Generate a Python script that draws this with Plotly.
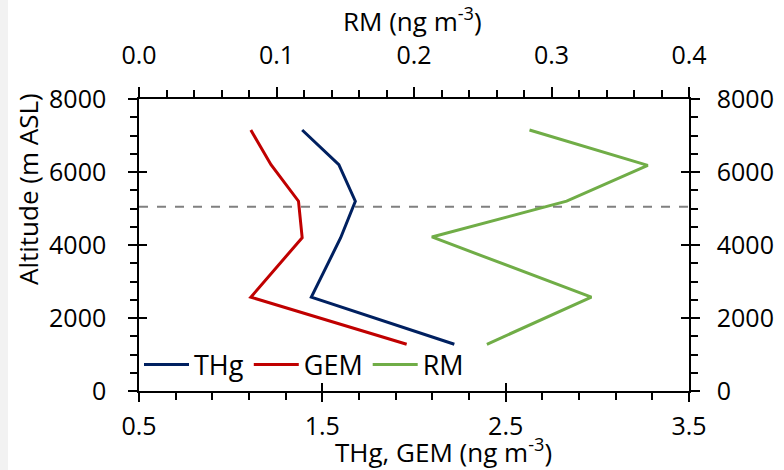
import plotly.graph_objects as go

# ---- data ----
altitude = [7150, 6200, 5200, 4200, 2570, 1280]
altitude_rm = [7150, 6180, 5200, 4220, 2570, 1280]
thg = [1.39, 1.59, 1.68, 1.60, 1.44, 2.22]
gem = [1.11, 1.22, 1.37, 1.39, 1.11, 1.96]
rm = [0.284, 0.370, 0.311, 0.213, 0.329, 0.253]
boundary_altitude = 5050

x_range = [0.5, 3.5]
rm_range = [0.0, 0.4]
y_range = [0, 8000]

FONT = "Open Sans, Noto Sans, sans-serif"
FS = 25

fig = go.Figure()
fig.add_trace(go.Scatter(x=thg, y=altitude, mode="lines", name="THg",
                         line=dict(color="#002060", width=3), xaxis="x", yaxis="y"))
fig.add_trace(go.Scatter(x=gem, y=altitude, mode="lines", name="GEM",
                         line=dict(color="#C00000", width=3), xaxis="x", yaxis="y"))
fig.add_trace(go.Scatter(x=rm, y=altitude_rm, mode="lines", name="RM",
                         line=dict(color="#70AD47", width=3), xaxis="x2", yaxis="y"))
# helper traces to attach secondary axes
for xa, ya in [("x", "y2"), ("x3", "y3"), ("x", "y4")]:
    fig.add_trace(go.Scatter(x=[None], y=[None], xaxis=xa, yaxis=ya,
                             showlegend=False, hoverinfo="skip"))

fig.add_shape(type="line", xref="paper", x0=0, x1=1, yref="y",
              y0=boundary_altitude, y1=boundary_altitude,
              line=dict(color="#808080", width=2, dash="dash"), layer="below")
# light grey strip at the left edge of the image
fig.add_shape(type="rect", xref="paper", yref="paper", x0=-139/550, x1=-131/550,
              y0=-79/292, y1=1 + 99/292, line=dict(width=0), fillcolor="#F2F2F2",
              layer="below")

tickfont = dict(family=FONT, size=FS, color="black")
common = dict(showgrid=False, zeroline=False, showline=True, linecolor="black",
              linewidth=1.5, tickcolor="black", tickwidth=1.5, tickfont=tickfont,
              automargin=False)
inside = dict(showticklabels=False, showgrid=False, zeroline=False, showline=False,
              tickcolor="black", tickwidth=1.5, automargin=False)

fig.update_layout(
    width=784, height=470,
    margin=dict(l=139, r=95, t=99, b=79),
    paper_bgcolor="white", plot_bgcolor="white",
    font=dict(family=FONT, size=FS, color="black"),
    showlegend=True,
    legend=dict(orientation="h", x=0.0, y=0.089, xanchor="left", yanchor="middle",
                bgcolor="rgba(0,0,0,0)", font=dict(family=FONT, size=27),
                itemwidth=45, tracegroupgap=0),
    xaxis=dict(range=x_range, tick0=0.5, dtick=1, ticks="outside", ticklen=9,
               ticklabelstandoff=3, tickformat=".1f",
               minor=dict(tick0=0.5, dtick=0.2, ticks="outside", ticklen=7,
                          tickcolor="black", tickwidth=1.5),
               anchor="y", side="bottom", **common),
    xaxis2=dict(range=rm_range, tick0=0, dtick=0.1, ticks="outside", ticklen=10,
                ticklabelstandoff=13, tickformat=".1f",
                minor=dict(tick0=0, dtick=0.02, ticks="outside", ticklen=7,
                           tickcolor="black", tickwidth=1.5),
                overlaying="x", side="top", anchor="y", **common),
    xaxis3=dict(range=x_range, tick0=0.5, dtick=1, ticks="inside", ticklen=8,
                overlaying="x", side="bottom", anchor="y3", **inside),
    yaxis=dict(range=y_range, tick0=0, dtick=2000, ticks="outside", ticklen=9,
               ticklabelstandoff=17,
               minor=dict(tick0=0, dtick=500, ticks="outside", ticklen=7,
                          tickcolor="black", tickwidth=1.5),
               side="left", anchor="x", **common),
    yaxis2=dict(range=y_range, tick0=0, dtick=2000, ticks="outside", ticklen=9,
                ticklabelstandoff=12,
                minor=dict(tick0=0, dtick=500, ticks="outside", ticklen=7,
                           tickcolor="black", tickwidth=1.5),
                overlaying="y", side="right", anchor="x", **common),
    yaxis3=dict(range=y_range, tick0=0, dtick=2000, ticks="inside", ticklen=8,
                overlaying="y", side="left", anchor="x3", **inside),
    yaxis4=dict(range=y_range, tick0=0, dtick=2000, ticks="inside", ticklen=8,
                overlaying="y", side="right", anchor="x", **inside),
    annotations=[
        dict(text="THg, GEM (ng m<sup>-3</sup>)", xref="paper", yref="paper",
             x=(443 - 139) / 550, y=(391 - 451) / 292, xanchor="center",
             yanchor="middle", showarrow=False, font=dict(family=FONT, size=26)),
        dict(text="RM (ng m<sup>-3</sup>)", xref="paper", yref="paper",
             x=(412 - 139) / 550, y=(391 - 20) / 292, xanchor="center",
             yanchor="middle", showarrow=False, font=dict(family=FONT, size=26)),
        dict(text="Altitude (m ASL)", xref="paper", yref="paper",
             x=(28 - 139) / 550, y=(391 - 189) / 292, xanchor="center",
             yanchor="middle", textangle=-90, showarrow=False,
             font=dict(family=FONT, size=26)),
    ],
)

fig.write_html("out.html")
